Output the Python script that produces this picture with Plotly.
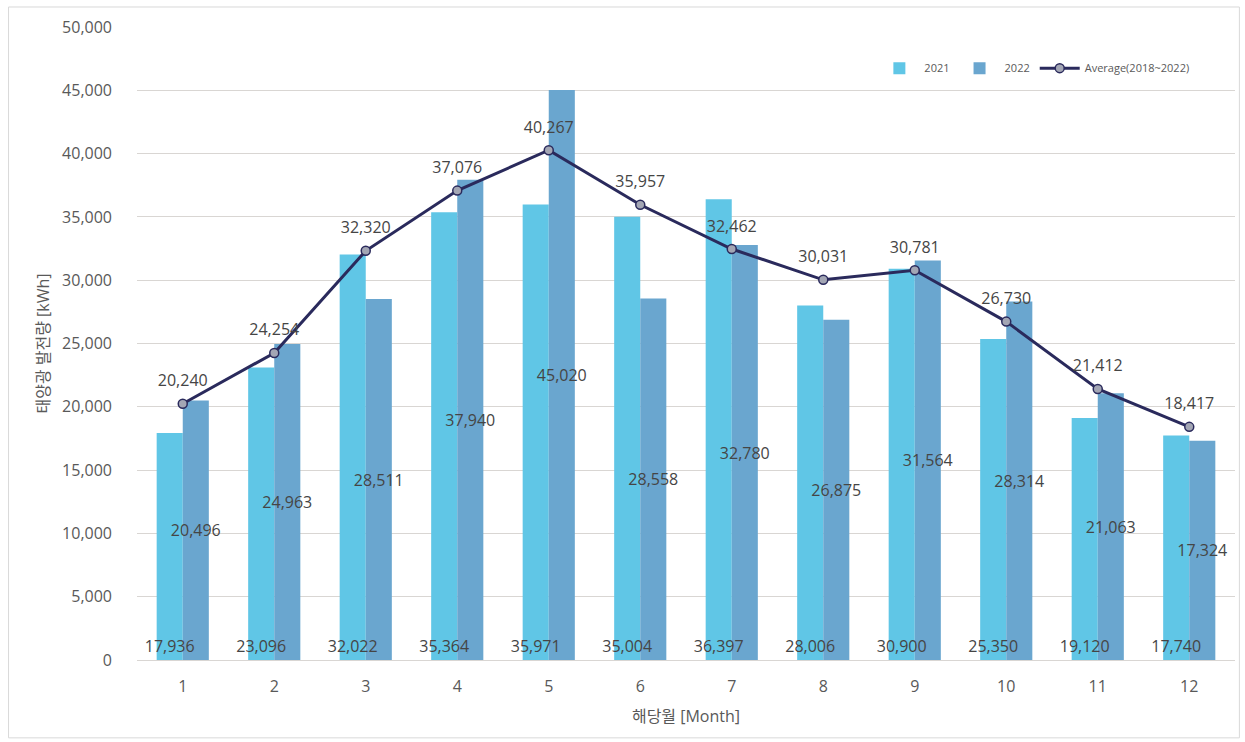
import plotly.graph_objects as go

months = [str(m) for m in range(1, 13)]
gen_2021 = [17936, 23096, 32022, 35364, 35971, 35004, 36397, 28006, 30900, 25350, 19120, 17740]
gen_2022 = [20496, 24963, 28511, 37940, 45020, 28558, 32780, 26875, 31564, 28314, 21063, 17324]
avg_2018_2022 = [20240, 24254, 32320, 37076, 40267, 35957, 32462, 30031, 30781, 26730, 21412, 18417]

FONT = "Open Sans, Noto Sans CJK KR, sans-serif"
LABEL_COLOR = "#454545"
BAR_W = 0.285  # width of one bar, in category units


def fmt(values):
    return [f"{v:,}" for v in values]


label_font = dict(size=16, color=LABEL_COLOR, family=FONT)

fig = go.Figure()

# Filled bars (no text); side by side via explicit offsets
fig.add_trace(go.Bar(
    x=months, y=gen_2021, name="2021", width=BAR_W, offset=-BAR_W,
    marker=dict(color="#60C6E6", line=dict(width=0)),
))
fig.add_trace(go.Bar(
    x=months, y=gen_2022, name="2022", width=BAR_W, offset=0,
    marker=dict(color="#6AA6CF", line=dict(width=0)),
))

# Value labels drawn as transparent bars on top so no bar covers them
fig.add_trace(go.Bar(
    x=months, y=gen_2021, width=BAR_W, offset=-BAR_W, showlegend=False,
    marker=dict(color="rgba(0,0,0,0)", line=dict(width=0)),
    text=fmt(gen_2021), textposition="inside", insidetextanchor="start",
    textangle=0, constraintext="none", cliponaxis=False, textfont=label_font,
    hoverinfo="skip",
))
fig.add_trace(go.Bar(
    x=months, y=gen_2022, width=BAR_W, offset=0, showlegend=False,
    marker=dict(color="rgba(0,0,0,0)", line=dict(width=0)),
    text=fmt(gen_2022), textposition="inside", insidetextanchor="middle",
    textangle=0, constraintext="none", cliponaxis=False, textfont=label_font,
    hoverinfo="skip",
))

# Average line with markers
fig.add_trace(go.Scatter(
    x=months, y=avg_2018_2022, name="Average(2018~2022)",
    mode="lines+markers",
    line=dict(color="#2A2A5C", width=3),
    marker=dict(symbol="circle", size=9, color="#A3A6B4",
                line=dict(color="#2A2A5C", width=1.5)),
))
# Average labels, lifted clear of the markers
fig.add_trace(go.Scatter(
    x=months, y=avg_2018_2022, mode="markers+text", showlegend=False,
    marker=dict(size=20, opacity=0),
    text=fmt(avg_2018_2022), textposition="top center",
    textfont=label_font, cliponaxis=False, hoverinfo="skip",
))

fig.update_layout(
    width=1245, height=742,
    margin=dict(l=137, r=10, t=27, b=82),
    paper_bgcolor="white", plot_bgcolor="white",
    font=dict(family=FONT, color="#595959"),
    barmode="overlay",
    showlegend=True,
    legend=dict(
        orientation="h", x=0.963, xanchor="right", y=0.935, yanchor="middle",
        font=dict(size=11, color="#595959", family=FONT),
        bgcolor="rgba(0,0,0,0)", traceorder="normal", itemwidth=40,
    ),
    xaxis=dict(
        type="category", range=[-0.5, 11.5],
        showgrid=False, showline=True, linecolor="#D9D6D3",
        linewidth=1, ticks="", ticklabelstandoff=12,
        tickfont=dict(size=16, color="#595959"),
        automargin=False,
        title=dict(text="해당월 [Month]", font=dict(size=16, color="#595959"),
                   standoff=14),
    ),
    yaxis=dict(
        range=[0, 50000], dtick=5000, tickformat=",d",
        showgrid=True, gridcolor="#D9D6D3", gridwidth=1, zeroline=False,
        ticks="", ticklabelstandoff=24, automargin=False,
        tickfont=dict(size=16, color="#595959"),
        title=dict(text="태양광 발전량 [kWh]", font=dict(size=16, color="#595959"),
                   standoff=8),
    ),
    shapes=[dict(
        type="rect", xref="paper", yref="paper",
        x0=-0.117, x1=1.004, y0=-0.123, y1=1.0316,
        line=dict(color="#D9D9D9", width=1), layer="below",
    )],
)

fig.write_html("out.html")
